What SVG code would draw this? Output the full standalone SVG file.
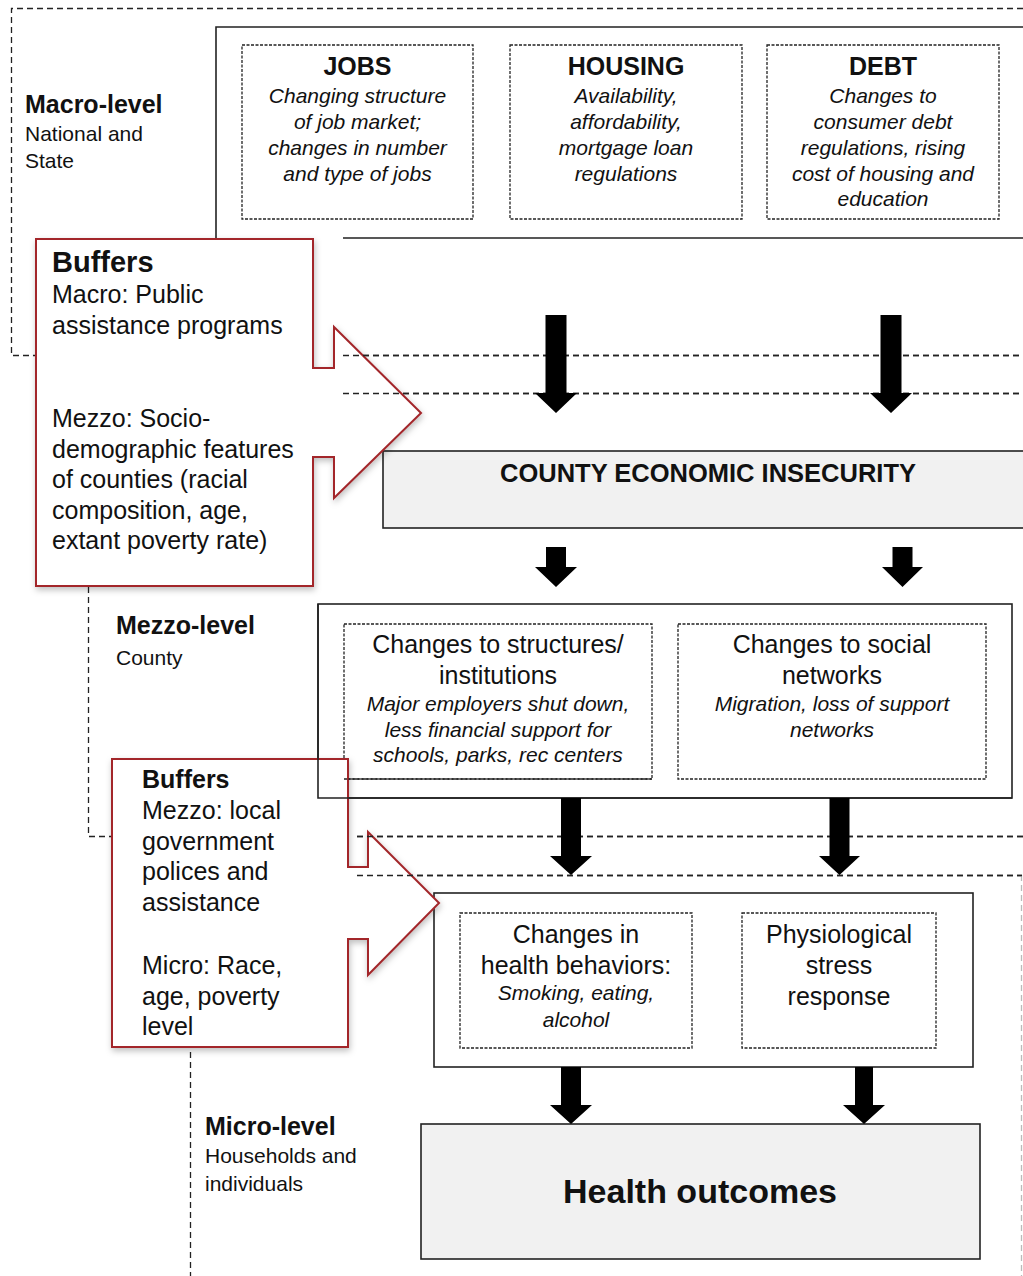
<svg xmlns="http://www.w3.org/2000/svg" width="1023" height="1276" viewBox="0 0 1023 1276">
<style>
text{font-family:"Liberation Sans",Arial,Helvetica,sans-serif;fill:#111}
.lvl{font-weight:bold;font-size:25px}
.sub{font-size:21px}
.hd{font-weight:bold;font-size:25px;text-anchor:middle}
.it{font-style:italic;font-size:21px;text-anchor:middle}
.tt{font-size:25px;text-anchor:middle}
.bt{font-size:25px}
.region{fill:none;stroke:#222;stroke-width:1.3;stroke-dasharray:6 4}
.inner{fill:none;stroke:#222;stroke-width:1.3;stroke-dasharray:3 1.5}
.box{fill:none;stroke:#222;stroke-width:1.6}
.gbox{fill:#f1f1f1;stroke:#222;stroke-width:1.6}
.buffer{fill:#fff;stroke:#a3282c;stroke-width:2}
.arrow{fill:#000}
</style>
<defs>
<filter id="shadow" x="-10%" y="-10%" width="125%" height="125%">
<feDropShadow dx="1" dy="3" stdDeviation="3" flood-color="#000" flood-opacity="0.25"/>
</filter>
</defs>
<rect width="1023" height="1276" fill="#fff"/>

<g id="level-regions">
<path class="region" d="M1023,8.5 H11.5 V355.5 H36 M343,355.5 H1023 M343,393.5 H1023"/>
<path class="region" d="M88.5,567 V836.5 H125 M357,836.5 H1023"/>
<path class="region" d="M357,875.5 H1022"/>
<path d="M1021.5,875 V1276" fill="none" stroke="#bbb" stroke-width="1.3" stroke-dasharray="6 4"/>
<path class="region" d="M190.5,1052 V1276"/>
</g>

<g id="macro-level-label">
<text class="lvl" x="25" y="113">Macro-level</text>
<text class="sub" x="25" y="141">National and</text>
<text class="sub" x="25" y="168">State</text>
</g>
<g id="mezzo-level-label">
<text class="lvl" x="116" y="634">Mezzo-level</text>
<text class="sub" x="116" y="665">County</text>
</g>
<g id="micro-level-label">
<text class="lvl" x="205" y="1135">Micro-level</text>
<text class="sub" x="205" y="1163">Households and</text>
<text class="sub" x="205" y="1191">individuals</text>
</g>

<g id="macro-box">
<path class="box" d="M1023,27 H216 V239 M343,238 H1023"/>
</g>
<g id="jobs">
<rect class="inner" x="242" y="45" width="231" height="174"/>
<text class="hd" x="357.5" y="75">JOBS</text>
<text class="it" x="357.5" y="103">Changing structure</text>
<text class="it" x="357.5" y="129">of job market;</text>
<text class="it" x="357.5" y="155">changes in number</text>
<text class="it" x="357.5" y="181">and type of jobs</text>
</g>
<g id="housing">
<rect class="inner" x="510" y="45" width="232" height="174"/>
<text class="hd" x="626" y="75">HOUSING</text>
<text class="it" x="626" y="103">Availability,</text>
<text class="it" x="626" y="129">affordability,</text>
<text class="it" x="626" y="155">mortgage loan</text>
<text class="it" x="626" y="181">regulations</text>
</g>
<g id="debt">
<rect class="inner" x="767" y="45" width="232" height="174"/>
<text class="hd" x="883" y="75">DEBT</text>
<text class="it" x="883" y="103">Changes to</text>
<text class="it" x="883" y="129">consumer debt</text>
<text class="it" x="883" y="155">regulations, rising</text>
<text class="it" x="883" y="181">cost of housing and</text>
<text class="it" x="883" y="206">education</text>
</g>

<g id="county-economic-insecurity">
<rect class="gbox" x="383" y="451" width="660" height="77"/>
<text class="hd" x="708" y="482" style="font-size:25.5px">COUNTY ECONOMIC INSECURITY</text>
</g>

<g id="mezzo-box">
<rect class="box" x="318" y="604" width="694" height="194"/>
</g>
<g id="structures">
<rect class="inner" x="344" y="624" width="308" height="155"/>
<text class="tt" x="498" y="653">Changes to structures/</text>
<text class="tt" x="498" y="684">institutions</text>
<text class="it" x="498" y="711">Major employers shut down,</text>
<text class="it" x="498" y="737">less financial support for</text>
<text class="it" x="498" y="762">schools, parks, rec centers</text>
</g>
<g id="social-networks">
<rect class="inner" x="678" y="624" width="308" height="155"/>
<text class="tt" x="832" y="653">Changes to social</text>
<text class="tt" x="832" y="684">networks</text>
<text class="it" x="832" y="711">Migration, loss of support</text>
<text class="it" x="832" y="737">networks</text>
</g>

<g id="micro-box">
<rect class="box" x="434" y="893" width="539" height="174"/>
</g>
<g id="health-behaviors">
<rect class="inner" x="460" y="913" width="232" height="135"/>
<text class="tt" x="576" y="943">Changes in</text>
<text class="tt" x="576" y="974">health behaviors:</text>
<text class="it" x="576" y="1000">Smoking, eating,</text>
<text class="it" x="576" y="1027">alcohol</text>
</g>
<g id="stress-response">
<rect class="inner" x="742" y="913" width="194" height="135"/>
<text class="tt" x="839" y="943">Physiological</text>
<text class="tt" x="839" y="974">stress</text>
<text class="tt" x="839" y="1005">response</text>
</g>

<g id="health-outcomes">
<rect class="gbox" x="421" y="1124" width="559" height="135"/>
<text x="700" y="1203" style="font-weight:bold;font-size:34px;text-anchor:middle">Health outcomes</text>
</g>

<g id="buffers-macro-mezzo">
<path class="buffer" filter="url(#shadow)" d="M36,239 H313 V368 H334 V327 L421,413 L334,498 V457 H313 V586 H36 Z"/>
<text x="52" y="272" style="font-weight:bold;font-size:29px">Buffers</text>
<text class="bt" x="52" y="303">Macro: Public</text>
<text class="bt" x="52" y="334">assistance programs</text>
<text class="bt" x="52" y="427">Mezzo: Socio-</text>
<text class="bt" x="52" y="458">demographic features</text>
<text class="bt" x="52" y="488">of counties (racial</text>
<text class="bt" x="52" y="519">composition, age,</text>
<text class="bt" x="52" y="549">extant poverty rate)</text>
</g>

<g id="buffers-mezzo-micro">
<path class="buffer" filter="url(#shadow)" d="M112,759 H348 V867 H368 V832 L439,903 L368,975 V939 H348 V1047 H112 Z"/>
<text class="lvl" x="142" y="788">Buffers</text>
<text class="bt" x="142" y="819">Mezzo: local</text>
<text class="bt" x="142" y="850">government</text>
<text class="bt" x="142" y="880">polices and</text>
<text class="bt" x="142" y="911">assistance</text>
<text class="bt" x="142" y="974">Micro: Race,</text>
<text class="bt" x="142" y="1005">age, poverty</text>
<text class="bt" x="142" y="1035">level</text>
</g>

<g id="overlay-lines">
<path class="region" d="M343,355.5 H1023 M343,393.5 H1023 M357,836.5 H1023 M357,875.5 H1022"/>
<path class="box" d="M318,604 V798 H1012"/>
<path class="inner" d="M344,779 H652"/>
</g>

<g id="connectors">
<polygon class="arrow" points="545.5,315 566.5,315 566.5,393 577,393 556,413 535,393 545.5,393"/>
<polygon class="arrow" points="880.5,315 901.5,315 901.5,393 912,393 891,413 870,393 880.5,393"/>
<polygon class="arrow" points="546,547 566,547 566,567 577,567 556,587 535,567 546,567"/>
<polygon class="arrow" points="892.5,547 912.5,547 912.5,567 923,567 902.5,587 882,567 892.5,567"/>
<polygon class="arrow" points="561,798 581,798 581,856 592,856 571,875 550,856 561,856"/>
<polygon class="arrow" points="829.5,798 849.5,798 849.5,856 860,856 839.5,875 819,856 829.5,856"/>
<polygon class="arrow" points="561,1067 581,1067 581,1105 592,1105 571,1124 550,1105 561,1105"/>
<polygon class="arrow" points="855,1067 873,1067 873,1105 885,1105 864,1124 843,1105 855,1105"/>
</g>
</svg>
